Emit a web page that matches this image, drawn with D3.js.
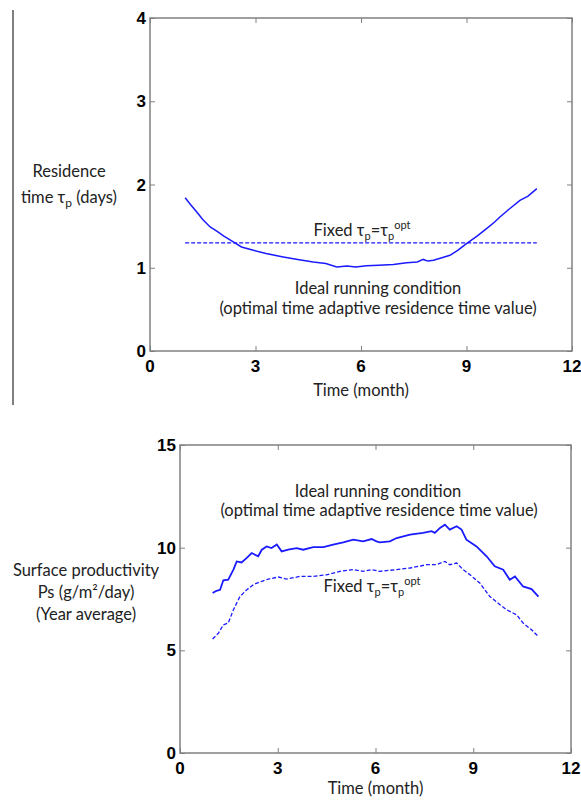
<!DOCTYPE html>
<html lang="en">
<head>
<meta charset="UTF-8">
<title>Residence time and surface productivity</title>
<style>
  body { margin: 0; background: #fff; }
  .tick-label { font-family: "Liberation Sans", Arial, sans-serif; font-weight: bold; font-size: 17px; fill: #000; }
  .note { font-family: Lato, "Open Sans", sans-serif; font-size: 16.5px; fill: #222; }
</style>
</head>
<body>
<svg width="581" height="800"></svg>
<script src="https://d3js.org/d3.v7.min.js"></script>
<script>
// x ticks shared by both panels (months)
var monthTicks = [0, 3, 6, 9, 12];

// top panel: residence time (days)
var resTicks = [0, 1, 2, 3, 4];
var resAdaptiveT = [1.0, 1.15, 1.33, 1.5, 1.71, 1.9, 2.1, 2.37, 2.6, 2.94, 3.3, 3.79, 4.2, 4.64, 5.0, 5.31, 5.6, 5.85, 6.16, 6.5, 6.92, 7.3, 7.6, 7.77, 7.9, 8.06, 8.3, 8.53, 8.75, 9.0, 9.3, 9.57, 9.8, 9.95, 10.2, 10.52, 10.75, 11.0];
var resAdaptiveV = [1.84, 1.76, 1.67, 1.58, 1.49, 1.44, 1.38, 1.31, 1.25, 1.21, 1.17, 1.13, 1.10, 1.07, 1.05, 1.01, 1.02, 1.01, 1.025, 1.03, 1.04, 1.06, 1.07, 1.10, 1.08, 1.09, 1.12, 1.15, 1.21, 1.29, 1.38, 1.47, 1.55, 1.61, 1.70, 1.81, 1.86, 1.95];
var resFixedT = [1.0, 11.0];
var resFixedV = [1.3, 1.3];

// bottom panel: surface productivity (g/m2/day)
var prodTicks = [0, 5, 10, 15];
var prodAdaptiveT = [1.0, 1.12, 1.23, 1.33, 1.48, 1.64, 1.74, 1.89, 2.05, 2.2, 2.4, 2.51, 2.66, 2.81, 2.97, 3.12, 3.32, 3.58, 3.78, 4.09, 4.4, 4.7, 5.01, 5.32, 5.62, 5.88, 6.03, 6.13, 6.44, 6.65, 7.06, 7.46, 7.72, 7.82, 7.98, 8.13, 8.28, 8.49, 8.64, 8.79, 9.1, 9.41, 9.66, 9.92, 10.12, 10.28, 10.53, 10.79, 11.0];
var prodAdaptiveV = [7.79, 7.9, 7.95, 8.41, 8.44, 8.93, 9.33, 9.28, 9.5, 9.74, 9.58, 9.9, 10.06, 9.98, 10.15, 9.82, 9.9, 9.98, 9.9, 10.03, 10.03, 10.15, 10.26, 10.39, 10.31, 10.42, 10.31, 10.26, 10.31, 10.47, 10.63, 10.72, 10.8, 10.72, 10.96, 11.12, 10.88, 11.04, 10.88, 10.39, 10.06, 9.58, 9.09, 8.93, 8.44, 8.6, 8.11, 7.98, 7.62];
var prodFixedT = [1.0, 1.18, 1.33, 1.48, 1.64, 1.84, 2.05, 2.25, 2.51, 2.71, 3.02, 3.27, 3.68, 4.09, 4.5, 4.91, 5.32, 5.62, 5.88, 6.13, 6.65, 7.06, 7.57, 7.87, 8.13, 8.28, 8.49, 8.69, 8.9, 9.2, 9.51, 9.82, 10.02, 10.33, 10.53, 10.79, 11.0];
var prodFixedV = [5.55, 5.84, 6.24, 6.33, 6.98, 7.62, 7.95, 8.2, 8.36, 8.47, 8.57, 8.47, 8.6, 8.6, 8.68, 8.85, 8.93, 8.85, 8.93, 8.85, 8.93, 9.01, 9.17, 9.17, 9.33, 9.17, 9.25, 8.93, 8.68, 8.28, 7.62, 7.22, 6.98, 6.73, 6.33, 6.0, 5.67];

const svg = d3.select('svg');
const blue = '#1a1aff';
const frame = '#808080';

function zip(ts, vs) { return ts.map((t, i) => [t, vs[i]]); }

// writes "Fixed τp=τp^opt" with sub/superscripts
function fixedLabel(g, x, y) {
  const t = g.append('text').attr('class', 'note').attr('x', x).attr('y', y).attr('text-anchor', 'middle');
  t.append('tspan').text('Fixed τ');
  t.append('tspan').attr('font-size', 11).attr('dy', 4).text('p');
  t.append('tspan').attr('dy', -4).text('=τ');
  t.append('tspan').attr('font-size', 11).attr('dy', 4).text('p');
  t.append('tspan').attr('font-size', 11).attr('dy', -11).text('opt');
}

function panel(opt) {
  const x = d3.scaleLinear().domain([0, 12]).range([opt.left, opt.right]);
  const y = d3.scaleLinear().domain([0, opt.yMax]).range([opt.bottom, opt.top]);
  const g = svg.append('g');

  // frame
  g.append('rect')
    .attr('x', opt.left).attr('y', opt.top)
    .attr('width', opt.right - opt.left).attr('height', opt.bottom - opt.top)
    .attr('fill', 'none').attr('stroke', frame).attr('stroke-width', 1.5);

  // axes with inward ticks, labels drawn separately
  const axes = [
    [d3.axisBottom(x).tickValues(monthTicks), `translate(0,${opt.bottom})`],
    [d3.axisTop(x).tickValues(monthTicks), `translate(0,${opt.top})`],
    [d3.axisLeft(y).tickValues(opt.yTicks), `translate(${opt.left},0)`],
    [d3.axisRight(y).tickValues(opt.yTicks), `translate(${opt.right},0)`]
  ];
  axes.forEach(([ax, tr]) => {
    const a = g.append('g').attr('transform', tr)
      .call(ax.tickSizeInner(-5).tickSizeOuter(0).tickFormat(''));
    a.select('.domain').remove();
    a.selectAll('line').attr('stroke', frame);
  });

  g.selectAll('.xl').data(monthTicks).enter().append('text')
    .attr('class', 'tick-label').attr('text-anchor', 'middle')
    .attr('x', d => x(d)).attr('y', opt.bottom + 21).text(d => d);
  g.selectAll('.yl').data(opt.yTicks).enter().append('text')
    .attr('class', 'tick-label').attr('text-anchor', 'end')
    .attr('x', opt.left - 4).attr('y', d => y(d) + 6).text(d => d);

  g.append('text').attr('class', 'note').attr('text-anchor', 'middle')
    .attr('x', (opt.left + opt.right) / 2).attr('y', opt.bottom + opt.titleOff)
    .attr('font-size', 17.5).text('Time (month)');

  const line = d3.line().x(d => x(d[0])).y(d => y(d[1]));
  g.append('path').datum(zip(opt.adaptT, opt.adaptV))
    .attr('d', line).attr('fill', 'none').attr('stroke', blue).attr('stroke-width', opt.solidW);
  g.append('path').datum(zip(opt.fixT, opt.fixV))
    .attr('d', line).attr('fill', 'none').attr('stroke', blue).attr('stroke-width', 1.3)
    .attr('stroke-dasharray', '4,2');
  return g;
}

// top panel
const g1 = panel({ left: 150, right: 572, top: 18, bottom: 351, yMax: 4, yTicks: resTicks, titleOff: 45,
  adaptT: resAdaptiveT, adaptV: resAdaptiveV, fixT: resFixedT, fixV: resFixedV, solidW: 1.5 });
fixedLabel(g1, 362, 236);
g1.append('text').attr('class', 'note').attr('text-anchor', 'middle').attr('x', 378).attr('y', 294).text('Ideal running condition');
g1.append('text').attr('class', 'note').attr('text-anchor', 'middle').attr('x', 378).attr('y', 314).text('(optimal time adaptive residence time value)');

const yl1 = svg.append('text').attr('class', 'note').attr('font-size', 18.5).attr('text-anchor', 'middle');
yl1.append('tspan').attr('x', 69).attr('y', 177).text('Residence');
const yl1b = yl1.append('tspan').attr('x', 69).attr('y', 203);
yl1b.append('tspan').text('time τ');
yl1b.append('tspan').attr('font-size', 12).attr('dy', 4).text('p');
yl1b.append('tspan').attr('dy', -4).text(' (days)');

svg.append('line').attr('x1', 13).attr('x2', 13).attr('y1', 10).attr('y2', 405)
  .attr('stroke', '#555').attr('stroke-width', 1.5);

// bottom panel
const g2 = panel({ left: 180, right: 571, top: 445, bottom: 753, yMax: 15, yTicks: prodTicks, titleOff: 41,
  adaptT: prodAdaptiveT, adaptV: prodAdaptiveV, fixT: prodFixedT, fixV: prodFixedV, solidW: 1.8 });
fixedLabel(g2, 372, 592);
g2.append('text').attr('class', 'note').attr('text-anchor', 'middle').attr('x', 378).attr('y', 497).text('Ideal running condition');
g2.append('text').attr('class', 'note').attr('text-anchor', 'middle').attr('x', 379).attr('y', 516).text('(optimal time adaptive residence time value)');

const yl2 = svg.append('text').attr('class', 'note').attr('font-size', 18).attr('text-anchor', 'middle');
yl2.append('tspan').attr('x', 86).attr('y', 576).text('Surface productivity');
yl2.append('tspan').attr('x', 86).attr('y', 598).text('Ps (g/m²/day)');
yl2.append('tspan').attr('x', 86).attr('y', 620).text('(Year average)');
</script>
</body>
</html>
